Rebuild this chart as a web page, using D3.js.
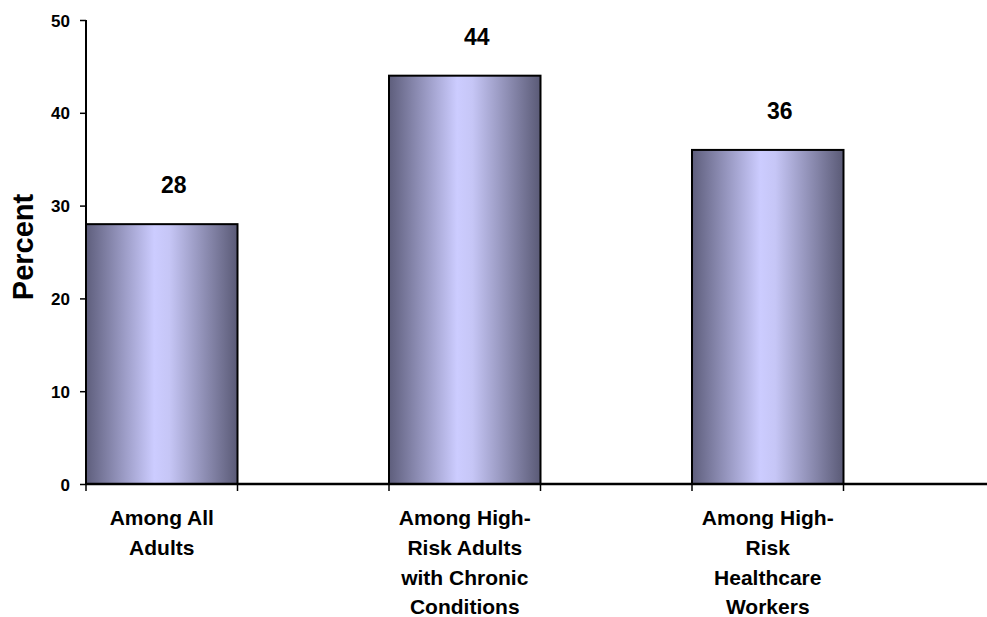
<!DOCTYPE html>
<html>
<head>
<meta charset="utf-8">
<script src="https://cdn.jsdelivr.net/npm/d3@7"></script>
<style>
  html, body { margin: 0; padding: 0; background: #fff; }
  svg { display: block; }
  text { font-family: "Liberation Sans", Arial, sans-serif; font-weight: bold; fill: #000; }
</style>
</head>
<body>
<svg id="chart" width="987" height="617"></svg>
<script>
const categories = ["Among All Adults", "Among High-Risk Adults with Chronic Conditions", "Among High-Risk Healthcare Workers"];
const categoryLines = [
  ["Among All", "Adults"],
  ["Among High-", "Risk Adults", "with Chronic", "Conditions"],
  ["Among High-", "Risk", "Healthcare", "Workers"]
];
const values = [28, 44, 36];
const yTicks = [0, 10, 20, 30, 40, 50];
const yLabel = "Percent";

(function () {
const svg = d3.select("#chart");
const mLeft = 86, mTop = 20, mBottom = 484, mRight = 995;

const x = d3.scaleBand().domain(categories).range([mLeft, mRight]).paddingInner(0).paddingOuter(0);
const y = d3.scaleLinear().domain([0, 50]).range([mBottom, mTop]);
const barW = x.bandwidth() / 2;

const defs = svg.append("defs");
const grad = defs.append("linearGradient").attr("id", "barGrad")
  .attr("x1", "0%").attr("x2", "100%").attr("y1", "0%").attr("y2", "0%");
grad.append("stop").attr("offset", "0%").attr("stop-color", "#5e5e7c");
grad.append("stop").attr("offset", "45%").attr("stop-color", "#ccccff");
grad.append("stop").attr("offset", "55%").attr("stop-color", "#c6c6f6");
grad.append("stop").attr("offset", "100%").attr("stop-color", "#5a5a76");

// bars
svg.append("g").selectAll("rect").data(values).join("rect")
  .attr("x", (d, i) => x(categories[i]))
  .attr("y", d => y(d))
  .attr("width", barW)
  .attr("height", d => y(0) - y(d))
  .attr("fill", "url(#barGrad)")
  .attr("stroke", "#000")
  .attr("stroke-width", 2);

// value labels
svg.append("g").selectAll("text").data(values).join("text")
  .attr("x", (d, i) => x(categories[i]) + barW / 2 + 12)
  .attr("y", d => y(d) - 31)
  .attr("text-anchor", "middle")
  .style("font-size", "23px")
  .text(d => d);

// y axis
const yAxis = svg.append("g").attr("transform", `translate(${mLeft},0)`)
  .call(d3.axisLeft(y).tickValues(yTicks).tickSize(6).tickPadding(10).tickFormat(d3.format("d")));
yAxis.select(".domain").attr("stroke", "#000").attr("stroke-width", 2).attr("d", `M0,${mTop}V${mBottom}`);
yAxis.selectAll(".tick line").attr("stroke", "#000").attr("stroke-width", 1.5);
yAxis.selectAll(".tick text").style("font-size", "17px").attr("dy", "0.36em")
  .style("font-family", "'Liberation Sans', Arial, sans-serif").style("font-weight", "bold");

// x axis line
svg.append("line").attr("x1", mLeft).attr("x2", 987).attr("y1", y(0)).attr("y2", y(0))
  .attr("stroke", "#000").attr("stroke-width", 2.5);

// x ticks at bar edges
const xTickPos = [];
categories.forEach(c => { xTickPos.push(x(c)); xTickPos.push(x(c) + barW); });
svg.append("g").selectAll("line").data(xTickPos).join("line")
  .attr("x1", d => d).attr("x2", d => d)
  .attr("y1", y(0)).attr("y2", y(0) + 7)
  .attr("stroke", "#000").attr("stroke-width", 1.5);

// category labels
const catG = svg.append("g");
categories.forEach((c, i) => {
  const t = catG.append("text")
    .attr("text-anchor", "middle")
    .style("font-size", "21px");
  categoryLines[i].forEach((ln, j) => {
    t.append("tspan").attr("x", x(c) + barW / 2).attr("y", 525 + j * 29.8).text(ln);
  });
});

// y label
svg.append("text")
  .attr("transform", "rotate(-90)")
  .attr("x", -247).attr("y", 33)
  .attr("text-anchor", "middle")
  .style("font-size", "29px")
  .text(yLabel);
})();
</script>
</body>
</html>
